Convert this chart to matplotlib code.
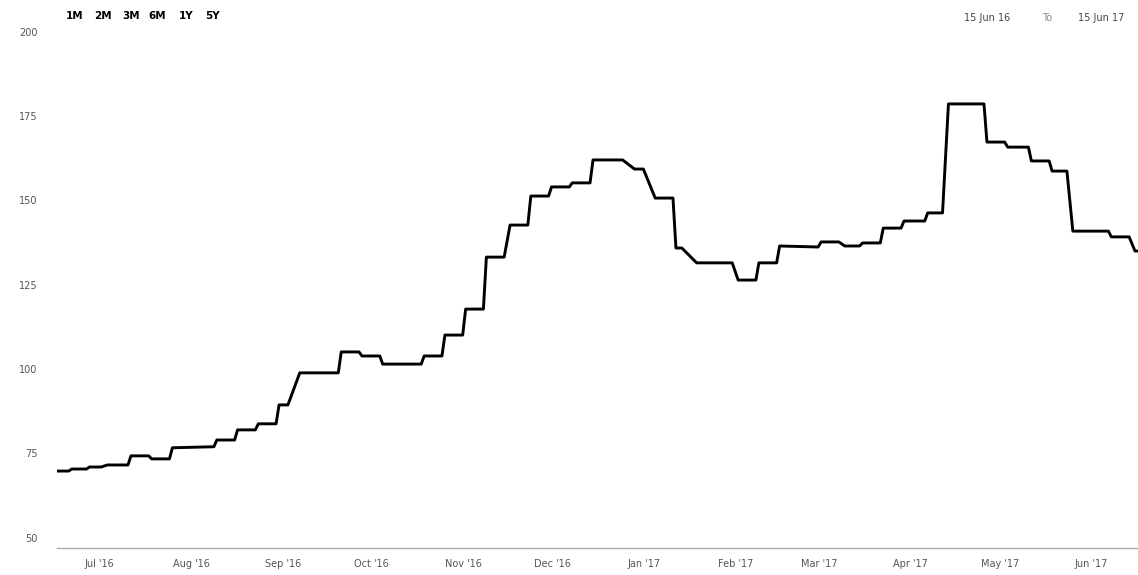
import pandas as pd
import matplotlib.pyplot as plt
import matplotlib.dates as mdates
import matplotlib.transforms as mtransforms

# price path (vertices of the line)
dates = ['2016-06-15', '2016-06-19', '2016-06-20', '2016-06-25', '2016-06-26', '2016-06-30',
         '2016-07-02', '2016-07-09', '2016-07-10', '2016-07-16', '2016-07-17', '2016-07-23',
         '2016-07-24', '2016-08-07', '2016-08-08', '2016-08-14', '2016-08-15', '2016-08-21',
         '2016-08-22', '2016-08-28', '2016-08-29', '2016-09-01', '2016-09-05', '2016-09-18',
         '2016-09-19', '2016-09-25', '2016-09-26', '2016-10-02', '2016-10-03', '2016-10-16',
         '2016-10-17', '2016-10-23', '2016-10-24', '2016-10-30', '2016-10-31', '2016-11-06',
         '2016-11-07', '2016-11-13', '2016-11-15', '2016-11-21', '2016-11-22', '2016-11-28',
         '2016-11-29', '2016-12-05', '2016-12-06', '2016-12-12', '2016-12-13', '2016-12-23',
         '2016-12-27', '2016-12-30', '2017-01-03', '2017-01-09', '2017-01-10', '2017-01-12',
         '2017-01-17', '2017-01-29', '2017-01-31', '2017-02-06', '2017-02-07', '2017-02-13',
         '2017-02-14', '2017-02-27', '2017-02-28', '2017-03-06', '2017-03-08', '2017-03-13',
         '2017-03-14', '2017-03-20', '2017-03-21', '2017-03-27', '2017-03-28', '2017-04-04',
         '2017-04-05', '2017-04-10', '2017-04-12', '2017-04-24', '2017-04-25', '2017-05-01',
         '2017-05-02', '2017-05-09', '2017-05-10', '2017-05-16', '2017-05-17', '2017-05-22',
         '2017-05-24', '2017-06-05', '2017-06-06', '2017-06-12', '2017-06-14', '2017-06-15']
prices = [69.8, 69.8, 70.4, 70.4, 71.0, 71.0,
          71.6, 71.6, 74.3, 74.3, 73.4, 73.4,
          76.7, 77.0, 79.0, 79.0, 82.0, 82.0,
          83.8, 83.8, 89.4, 89.4, 98.9, 98.9,
          105.1, 105.1, 103.9, 103.9, 101.5, 101.5,
          103.9, 103.9, 110.1, 110.1, 117.8, 117.8,
          133.2, 133.2, 142.7, 142.7, 151.3, 151.3,
          154.0, 154.0, 155.2, 155.2, 162.0, 162.0,
          159.3, 159.3, 150.7, 150.7, 135.9, 135.9,
          131.5, 131.5, 126.4, 126.4, 131.5, 131.5,
          136.5, 136.2, 137.7, 137.7, 136.5, 136.5,
          137.4, 137.4, 141.8, 141.8, 143.9, 143.9,
          146.3, 146.3, 178.6, 178.6, 167.3, 167.3,
          165.8, 165.8, 161.7, 161.7, 158.7, 158.7,
          140.9, 140.9, 139.2, 139.2, 135.0, 135.0]

y_ticks = [50, 75, 100, 125, 150, 175, 200]
range_buttons = ['1M', '2M', '3M', '6M', '1Y', '5Y']
range_from = '15 Jun 16'
range_to = '15 Jun 17'

df = pd.DataFrame({'date': pd.to_datetime(dates), 'price': prices})

fig = plt.figure(figsize=(11.38, 5.75), dpi=100)
ax = fig.add_axes([0.050, 0.047, 0.950, 0.899])

ax.plot(df['date'], df['price'], color='black', linewidth=2.1, solid_joinstyle='round')

ax.set_xlim(pd.Timestamp('2016-06-15'), pd.Timestamp('2017-06-15'))
ax.set_ylim(47.0, 200.2)

ax.set_yticks(y_ticks)
ax.tick_params(axis='y', length=0, pad=14, labelsize=7, labelcolor='#555555')
ax.xaxis.set_major_locator(mdates.MonthLocator())
ax.xaxis.set_major_formatter(mdates.DateFormatter("%b '%y"))
ax.tick_params(axis='x', length=0, pad=8, labelsize=7, labelcolor='#555555')

# month labels sit a few pixels left of the month start
shift = mtransforms.ScaledTranslation(-5 / 100, 0, fig.dpi_scale_trans)
for lab in ax.get_xticklabels():
    lab.set_transform(lab.get_transform() + shift)

for side in ['top', 'right', 'left']:
    ax.spines[side].set_visible(False)
ax.spines['bottom'].set_color('#aaaaaa')
ax.spines['bottom'].set_linewidth(1.0)

# range selector buttons and date range
for b, bx in zip(range_buttons, [75, 103, 131, 157, 186, 212]):
    fig.text(bx / 1138, 1 - 16 / 575, b, fontsize=7.5, fontweight='bold', ha='center', va='center')
fig.text(1010 / 1138, 1 - 18 / 575, range_from, fontsize=7, color='#444444', ha='right', va='center')
fig.text(1047 / 1138, 1 - 18 / 575, 'To', fontsize=7, color='#888888', ha='center', va='center')
fig.text(1124 / 1138, 1 - 18 / 575, range_to, fontsize=7, color='#444444', ha='right', va='center')

fig.savefig('out.png', dpi=100)
